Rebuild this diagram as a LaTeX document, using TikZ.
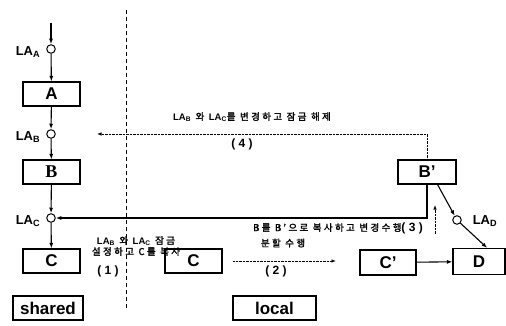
\documentclass[tikz,border=0pt]{standalone}
\usepackage{fontspec}
\setmainfont{Liberation Sans}
\newfontfamily\kr{Noto Sans CJK KR}[FakeBold=2,LetterSpace=25]
\newfontfamily\serifb{Liberation Serif}
\newcommand{\lasub}[1]{{\normalfont\bfseries\fontsize{9.5}{11}\selectfont LA\textsubscript{#1}}}
\usetikzlibrary{arrows.meta}
\begin{document}
\begin{tikzpicture}[x=1pt,y=-1pt,
  box/.style={draw, line width=1.1pt, minimum width=57pt, minimum height=24pt, inner sep=0pt, font=\fontsize{17}{17}\selectfont\bfseries},
  lock/.style={draw, circle, line width=1pt, minimum size=8.5pt, inner sep=0pt, fill=white},
  arr/.style={line width=1.1pt, -{Latex[length=5.5pt,width=4pt]}},
  dots/.style={line width=0.8pt, dash pattern=on 0.7pt off 0.7pt},
  dotarr/.style={dots, -{Latex[length=4.5pt,width=3.5pt]}},
  vdash/.style={line width=0.9pt, dash pattern=on 4pt off 3pt},
  lbl/.style={font=\fontsize{13}{13}\selectfont\bfseries, inner sep=0pt},
  kor/.style={font=\kr\fontsize{9.5}{11}\selectfont, inner sep=0pt, align=center},
  num/.style={font=\fontsize{12}{12}\selectfont\bfseries, inner sep=0pt}]
\useasboundingbox (0,0) rectangle (506,326);
% separator
\coordinate (d1) at (126,10);
\coordinate (d2) at (126,308);
\draw[vdash] (d1) -- (d2);
% shared column
\coordinate (top) at (51,23);
\node[lock] (LAA) at (51,49) {};
\node[lbl] (lA) at (28,52) {LA\textsubscript{A}};
\node[box] (A) at (51.5,94) {A};
\node[lock] (LAB) at (51,134) {};
\node[lbl] (lB) at (28,137) {LA\textsubscript{B}};
\node[box, font=\serifb\fontsize{18}{18}\selectfont\bfseries] (B) at (51.5,172) {B};
\node[lock] (LAC) at (51,218) {};
\node[lbl] (lC) at (28,221) {LA\textsubscript{C}};
\node[box] (C) at (51.5,261) {C};
\node[box, minimum width=70pt] (shared) at (48,308) {shared};
% local side
\node[box, minimum width=83pt] (local) at (274.5,308) {local};
\node[box] (Cc) at (193.5,261) {C};
\node[box, minimum width=56pt, minimum height=25pt] (Cp) at (388,262.5) {C’};
\node[box, minimum width=52pt, minimum height=26pt] (D) at (479,261.5) {D};
\node[box, minimum width=58pt] (Bp) at (427,172) {B’};
\node[lock] (LAD) at (457,220) {};
\node[lbl] (lD) at (485,221) {LA\textsubscript{D}};
% connectors
\draw[arr] (top) -- (LAA);
\draw[arr] (LAA) -- (A);
\draw[arr] (A) -- (LAB);
\draw[arr] (LAB) -- (B);
\draw[arr] (B) -- (LAC);
\draw[arr] (LAC) -- (C);
\draw[arr] (Bp.south) |- (LAC);
\draw[arr] (Cp) -- (D);
\draw[arr] (Bp.-50) -- (LAD);
\draw[arr] (LAD) -- (D.59);
\coordinate (e4) at (97,134);
\draw[dotarr] (Bp.north) |- (e4);
\coordinate (s3) at (435,234);
\coordinate (e3) at (435,205);
\draw[dotarr] (s3) -- (e3);
\coordinate (s2) at (233,261);
\coordinate (e2) at (336,261);
\draw[dotarr] (s2) -- (e2);
% texts
\node[kor] (t4) at (252,117) {\lasub{B} 와 \lasub{C}를 변경하고 잠금 해제};
\node[num] (n4) at (242,144) {( 4 )};
\node[kor] (t1) at (136,246) {\lasub{B} 와 \lasub{C} 잠금\\설정하고 C를 복사};
\node[num] (n1) at (108,271) {( 1 )};
\node[kor] (t3) at (338,228) {B를 B’으로 복사하고 변경수행{\normalfont\bfseries\fontsize{12}{12}\selectfont( 3 )}};
\node[kor] (t2) at (283,243) {분할 수행};
\node[num] (n2) at (276,271) {( 2 )};
\end{tikzpicture}
\end{document}
